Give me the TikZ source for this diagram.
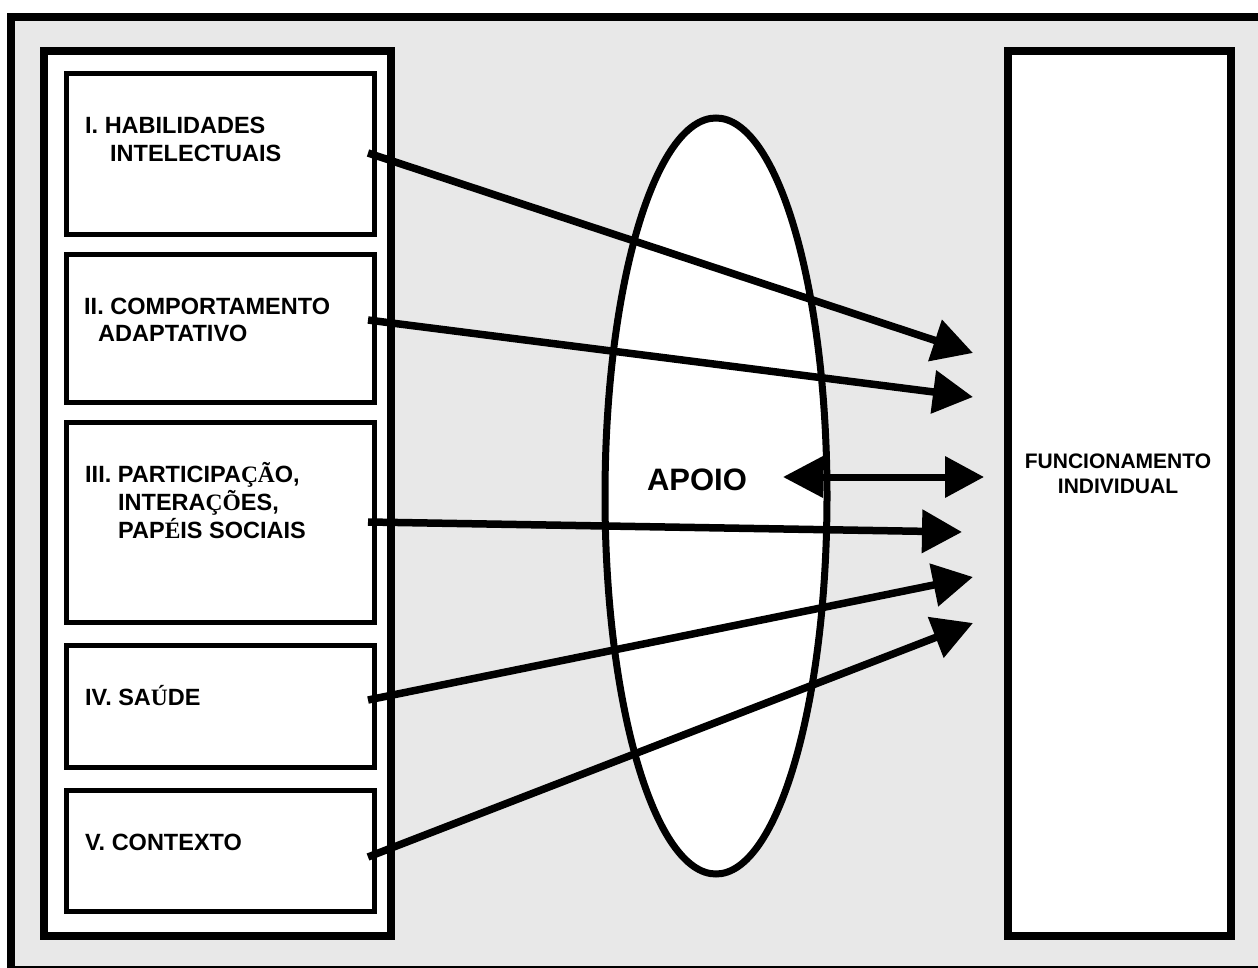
\documentclass[tikz,border=0pt]{standalone}
\usepackage{fontspec}
\setmainfont{Liberation Sans}
\newfontfamily\serifacc{Liberation Serif}
\usetikzlibrary{arrows.meta,shapes.geometric,calc}
\definecolor{bggray}{HTML}{E8E8E8}
\newcommand{\acc}[1]{{\serifacc\bfseries #1}}
\begin{document}
\begin{tikzpicture}[x=1pt,y=-1pt,
  box/.style={draw, line width=5pt, fill=white, rectangle, inner sep=0pt},
  panel/.style={draw, line width=8pt, fill=white, rectangle, inner sep=0pt},
  lbl/.style={anchor=base west, inner sep=0pt, font=\fontsize{23.5}{27.5}\selectfont\bfseries},
  conn/.style={line width=7.5pt, -{Triangle[length=40pt,width=42pt]}},
  dconn/.style={line width=7pt, {Triangle[length=40pt,width=40pt]}-{Triangle[length=39pt,width=40pt]}},
]
\useasboundingbox (0,0) rectangle (1258,968);
\clip (0,0) rectangle (1258,968);
\fill[white] (0,0) rectangle (1258,968);
\draw[line width=8pt, fill=bggray] (11,17) rectangle (1266,969.5);

% left panel and factor boxes
\node[panel, minimum width=347pt, minimum height=885pt] (left) at (217.5,493.5) {};
\node[box, minimum width=308pt, minimum height=161pt] (b1) at (220.5,154) {};
\node[box, minimum width=308pt, minimum height=148pt] (b2) at (220.5,328.5) {};
\node[box, minimum width=308pt, minimum height=200pt] (b3) at (220.5,522.5) {};
\node[box, minimum width=308pt, minimum height=121.5pt] (b4) at (220.5,706.25) {};
\node[box, minimum width=308pt, minimum height=121pt] (b5) at (220.5,851) {};

\node[lbl] (t1) at (85,134) {\begin{tabular}[t]{@{}l@{}}I. HABILIDADES\\\hspace*{25pt}INTELECTUAIS\end{tabular}};
\node[lbl] (t2) at (84,314.5) {\begin{tabular}[t]{@{}l@{}}II. COMPORTAMENTO\\\hspace*{14pt}ADAPTATIVO\end{tabular}};
\node[lbl] (t3) at (85,482) {\begin{tabular}[t]{@{}l@{}}III. PARTICIPA\acc{ÇÃ}O,\\\hspace*{33pt}INTERA\acc{ÇÕ}ES,\\\hspace*{33pt}PAP\acc{É}IS SOCIAIS\end{tabular}};
\node[lbl] (t4) at (85,705.5) {IV. SA\acc{Ú}DE};
\node[lbl] (t5) at (85,850) {V. CONTEXTO};

% right panel
\node[panel, minimum width=223.5pt, minimum height=885pt] (fi) at (1119.25,493.5) {};
\node[anchor=base, inner sep=0pt, font=\fontsize{21}{25}\selectfont\bfseries] (fit) at (1118,468)
  {\begin{tabular}[t]{@{}c@{}}FUNCIONAMENTO\\INDIVIDUAL\end{tabular}};

% support ellipse
\node[ellipse, draw, line width=7pt, fill=white, minimum width=222pt, minimum height=756pt, inner sep=0pt] (ap) at (716,496) {};
\node[anchor=base, inner sep=0pt, font=\fontsize{31}{36}\selectfont\bfseries] (apt) at (697,490) {APOIO};

% connector ends
\coordinate (s1) at (368,153);  \coordinate (e1) at (973,353);
\coordinate (s2) at (368,320);  \coordinate (e2) at (973,397);
\coordinate (s3) at (368,522);  \coordinate (e3) at (962,532);
\coordinate (s4) at (368,700);  \coordinate (e4) at (973,577);
\coordinate (s5) at (368,857);  \coordinate (e5) at (973,623);
\coordinate (d1) at (783,477);  \coordinate (d2) at (984,477);

\draw[conn] (s1) -- (e1);
\draw[conn] (s2) -- (e2);
\draw[conn] (s3) -- (e3);
\draw[conn] (s4) -- (e4);
\draw[conn] (s5) -- (e5);
\draw[dconn] (d1) -- (d2);
\end{tikzpicture}
\end{document}
